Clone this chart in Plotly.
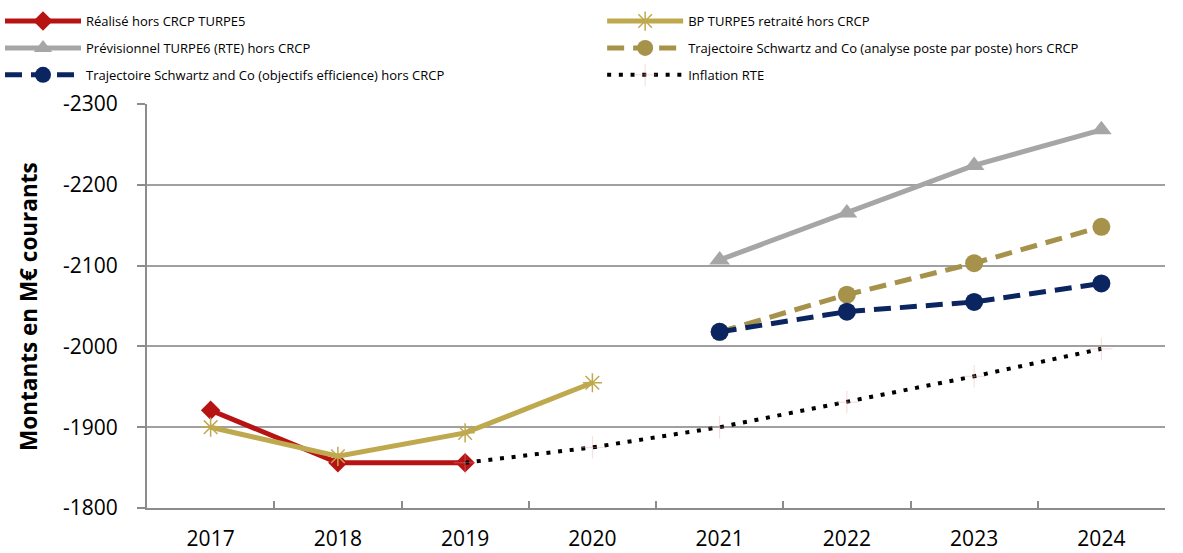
import plotly.graph_objects as go

years = ["2017", "2018", "2019", "2020", "2021", "2022", "2023", "2024"]

realise_x = ["2017", "2018", "2019"]
realise_y = [-1921, -1856, -1856]

bp_x = ["2017", "2018", "2019", "2020"]
bp_y = [-1900, -1864, -1893, -1955]

prev_x = ["2021", "2022", "2023", "2024"]
prev_y = [-2107, -2165, -2224, -2268]

analyse_x = ["2021", "2022", "2023", "2024"]
analyse_y = [-2018, -2064, -2103, -2148]

objectifs_x = ["2021", "2022", "2023", "2024"]
objectifs_y = [-2018, -2043, -2055, -2078]

inflation_x = ["2019", "2020", "2021", "2022", "2023", "2024"]
inflation_y = [-1856, -1875, -1900, -1931, -1963, -1997]

y_ticks = [-2300, -2200, -2100, -2000, -1900, -1800]
y_ticktext = ["-2300", "-2200", "-2100", "-2000", "-1900", "-1800"]
y_title = "<b>Montants en M€ courants</b>"

RED = "#B81313"
GOLD = "#BFA94F"
GOLD2 = "#A6924A"
GREY = "#A6A6A6"
NAVY = "#0B2561"

fig = go.Figure()
fig.add_trace(go.Scatter(x=realise_x, y=realise_y, mode="lines+markers",
                         name="Réalisé hors CRCP TURPE5", legend="legend", legendgroup="a",
                         line=dict(color=RED, width=5),
                         marker=dict(symbol="diamond", size=15, color=RED)))
fig.add_trace(go.Scatter(x=bp_x, y=bp_y, mode="lines+markers",
                         name="BP TURPE5 retraité hors CRCP", legend="legend2", legendgroup="b",
                         line=dict(color=GOLD, width=5),
                         marker=dict(symbol="asterisk-open", size=16, color=GOLD,
                                     line=dict(color=GOLD, width=1.5))))
fig.add_trace(go.Scatter(x=prev_x, y=prev_y, mode="lines+markers",
                         name="Prévisionnel TURPE6 (RTE) hors CRCP", legend="legend", legendgroup="c",
                         line=dict(color=GREY, width=5),
                         marker=dict(symbol="triangle-up", size=18, color=GREY)))
fig.add_trace(go.Scatter(x=analyse_x, y=analyse_y, mode="lines+markers",
                         name="Trajectoire Schwartz and Co (analyse poste par poste) hors CRCP",
                         legend="legend2", legendgroup="d",
                         line=dict(color=GOLD2, width=5, dash="17px,9px"),
                         marker=dict(symbol="circle", size=18, color=GOLD2)))
fig.add_trace(go.Scatter(x=objectifs_x, y=objectifs_y, mode="lines+markers",
                         name="Trajectoire Schwartz and Co (objectifs efficience) hors CRCP",
                         legend="legend", legendgroup="e",
                         line=dict(color=NAVY, width=5, dash="17px,9px"),
                         marker=dict(symbol="circle", size=18, color=NAVY)))
fig.add_trace(go.Scatter(x=inflation_x, y=inflation_y, mode="lines+markers",
                         name="Inflation RTE", legend="legend2", legendgroup="f",
                         line=dict(color="black", width=4, dash="4px,7.7px"),
                         marker=dict(symbol="cross-thin-open", size=16,
                                     color="rgba(235,160,160,0.4)",
                                     line=dict(color="rgba(235,160,160,0.4)", width=1))))

leg_common = dict(orientation="v", xref="container", yref="container",
                  y=0.989, xanchor="left", yanchor="top",
                  itemwidth=76, font=dict(size=13), tracegroupgap=7,
                  bgcolor="rgba(0,0,0,0)")

fig.update_layout(
    width=1183, height=553,
    margin=dict(l=147, r=18, t=104, b=45, autoexpand=False),
    paper_bgcolor="white", plot_bgcolor="white",
    font=dict(family="Open Sans, Liberation Sans, sans-serif", color="black"),
    legend=dict(x=0.0, **leg_common),
    legend2=dict(x=0.509, **leg_common),
    showlegend=True,
)
fig.add_annotation(text=y_title, xref="paper", yref="paper", x=-0.117, y=0.5,
                   xanchor="center", yanchor="middle", textangle=-90,
                   showarrow=False, font=dict(size=22.5, color="black"))
fig.update_xaxes(type="category", categoryorder="array", categoryarray=years,
                 range=[-0.5, 7.5], showgrid=False, showline=True,
                 linecolor="#8C8C8C", linewidth=2, ticks="inside", ticklen=7,
                 tickcolor="#8C8C8C", tickwidth=2, tickson="boundaries",
                 tickfont=dict(size=21), ticklabelstandoff=11, zeroline=False)
fig.update_yaxes(range=[-1800, -2300], tickvals=y_ticks, ticktext=y_ticktext,
                 showgrid=True, gridcolor="#A0A0A0", gridwidth=2,
                 showline=True, linecolor="#8C8C8C", linewidth=2,
                 ticks="outside", ticklen=8, tickcolor="#8C8C8C", tickwidth=2,
                 tickfont=dict(size=21), ticklabelstandoff=15, zeroline=False)

fig.write_html("out.html", config={"displayModeBar": False},
               post_script="document.body.style.margin='0';document.body.style.overflow='hidden';")
